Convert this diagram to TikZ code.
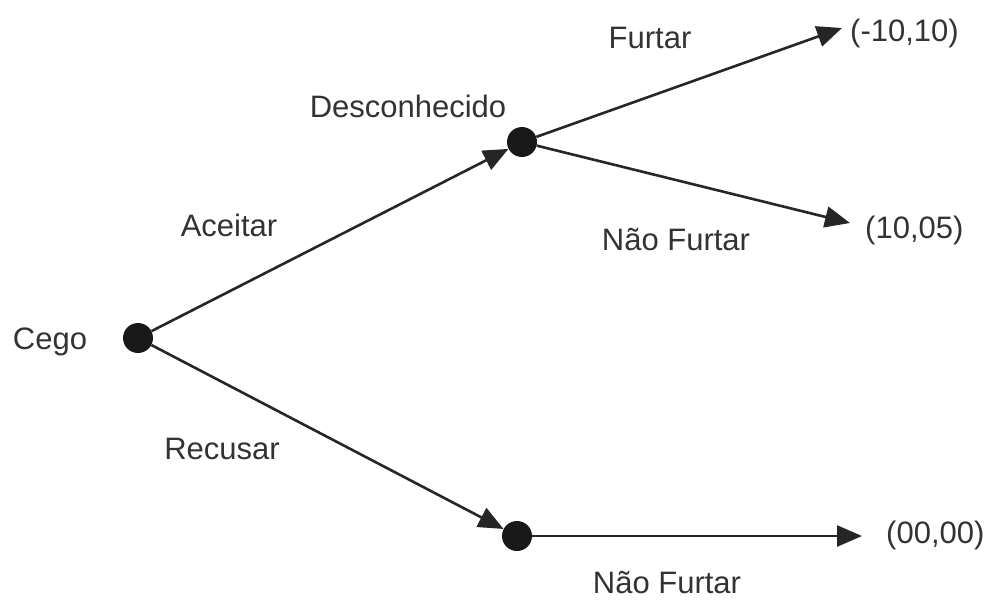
\documentclass[tikz,border=0pt]{standalone}
\usepackage{fontspec}
\setmainfont{Liberation Sans}
\usetikzlibrary{arrows.meta}
\begin{document}
\begin{tikzpicture}[x=1pt,y=-1pt,
  dot/.style={circle,fill=black!90,inner sep=0pt,minimum size=30pt},
  lbl/.style={font=\fontsize{31}{32}\selectfont,text=black!80,inner sep=0pt},
  edge/.style={line width=2.6pt,draw=black!85,-{Triangle[length=25pt,width=21pt]}}]
\useasboundingbox (0,0) rectangle (991,603);
\node[dot] (c) at (138,338) {};
\node[dot] (d) at (522,142) {};
\node[dot] (b) at (517,536) {};
\coordinate (t1) at (842,28);
\coordinate (t2) at (850,223);
\coordinate (t3) at (862,536);
\draw[edge] (c) -- (d);
\draw[edge] (c) -- (b);
\draw[edge] (d) -- (t1);
\draw[edge] (d) -- (t2);
\draw[edge] (b) -- (t3);
\node[lbl] (lc) at (50,342) {Cego};
\node[lbl] (ld) at (408,106) {Desconhecido};
\node[lbl] (la) at (229,225) {Aceitar};
\node[lbl] (lr) at (222,449) {Recusar};
\node[lbl] (lf) at (650,38) {Furtar};
\node[lbl] (lnf1) at (676,240) {Não Furtar};
\node[lbl] (lnf2) at (667,583) {Não Furtar};
\node[lbl,anchor=west] (p1) at (850,33) {(-10,10)};
\node[lbl,anchor=west] (p2) at (865,230) {(10,05)};
\node[lbl,anchor=west] (p3) at (886,535) {(00,00)};
\end{tikzpicture}
\end{document}
